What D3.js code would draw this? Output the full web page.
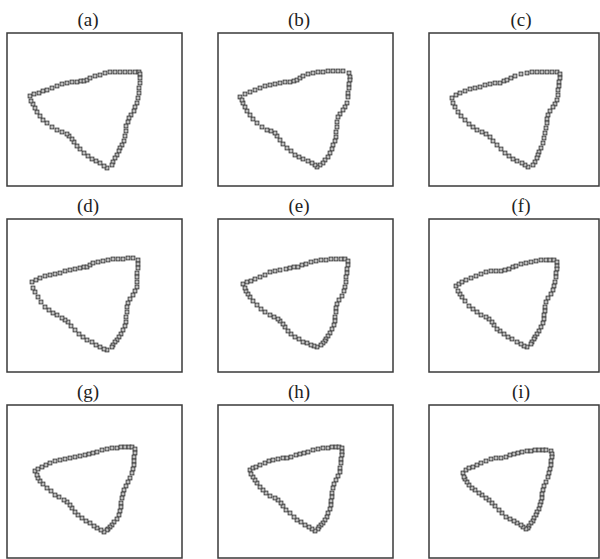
<!DOCTYPE html>
<html>
<head>
<meta charset="utf-8">
<script src="https://cdn.jsdelivr.net/npm/d3@7"></script>
<style>
  body { margin: 0; background: #fff; }
  svg { display: block; }
</style>
</head>
<body>
<div id="chart"></div>
<script>
'use strict';

// panel labels
var labels = ['(a)', '(b)', '(c)', '(d)', '(e)', '(f)', '(g)', '(h)', '(i)'];

// contour points (panel units, origin top-left of the box)
var pointsA = [[23,63],[27,61],[32,60],[36,58],[40,57],[45,55],[50,53],[55,51],[60,50],[65,49],[70,49],[74,48],[77,48],[80,47],[83,45],[88,43],[93,42],[98,40],[103,39],[108,39],[113,39],[118,39],[123,39],[128,39],[132,39],[133,41],
  [133,45],[133,50],[132,55],[132,60],[131,65],[130,70],[128,74],[127,78],[124,82],[122,85],[121,89],[119,93],[119,98],[118,103],[117,108],[115,112],[113,115],[112,118],[110,122],[108,125],[106,129],[105,132],[100,135],
  [97,133],[93,130],[89,128],[85,126],[81,123],[77,120],[73,116],[70,113],[67,109],[65,106],[62,103],[60,101],[55,99],[50,97],[45,94],[40,90],[36,87],[33,83],[30,79],[28,75],[26,71],[24,68]];
var pointsB = [[22,64],[27,61],[32,59],[37,57],[42,55],[47,53],[52,52],[57,51],[62,50],[67,49],[72,49],[76,48],[79,47],[82,45],[85,43],[90,41],[95,40],[100,39],[105,39],[110,38],[115,38],[120,38],[125,38],[131,40],
  [132,44],[132,47],[131,51],[131,55],[130,60],[130,64],[129,70],[127,74],[125,77],[122,81],[120,84],[119,89],[119,94],[118,99],[118,104],[117,108],[115,112],[114,116],[112,120],[110,124],[107,127],[105,130],[102,132],[99,134],
  [97,132],[94,130],[90,128],[85,126],[81,124],[77,122],[73,118],[69,115],[65,111],[62,107],[59,103],[57,100],[53,98],[49,97],[44,94],[39,90],[35,86],[32,82],[29,78],[27,74],[25,70],[24,67]];
var pointsC = [[23,65],[27,62],[31,60],[36,58],[41,56],[46,55],[51,54],[56,52],[61,51],[66,50],[71,50],[75,48],[78,47],[82,45],[86,43],[92,41],[98,40],[103,39],[108,39],[113,39],[118,39],[123,39],[128,39],[131,41],
  [131,45],[130,49],[130,53],[129,57],[129,62],[128,67],[126,71],[124,74],[121,78],[119,82],[118,86],[118,90],[117,95],[116,100],[115,105],[114,110],[112,115],[110,119],[109,122],[108,125],[106,129],[104,132],[99,134],
  [96,132],[93,130],[88,128],[84,126],[80,123],[76,120],[72,116],[68,112],[64,108],[61,104],[57,101],[53,99],[48,97],[44,94],[40,91],[36,87],[32,83],[29,79],[26,74],[24,70]];
var pointsD = [[25,63],[29,61],[33,59],[38,57],[43,56],[48,55],[53,54],[58,52],[63,51],[68,50],[73,49],[77,48],[80,48],[83,46],[86,44],[91,43],[96,42],[101,41],[106,40],[111,40],[116,40],[121,39],[126,39],[131,41],
  [131,45],[131,49],[130,54],[130,58],[130,63],[130,68],[128,72],[126,76],[123,80],[121,84],[120,88],[120,93],[119,98],[119,103],[118,107],[116,111],[114,115],[112,118],[110,121],[108,123],[106,126],[105,128],[100,131],
  [97,130],[93,128],[89,126],[85,123],[80,121],[76,118],[72,115],[68,111],[64,107],[61,103],[58,101],[55,99],[50,96],[46,94],[42,91],[38,88],[34,83],[31,78],[28,73],[26,69]];
var pointsE = [[25,65],[29,63],[33,62],[37,60],[42,58],[47,56],[52,53],[57,52],[62,51],[68,50],[72,49],[76,48],[80,48],[84,46],[88,45],[93,43],[98,42],[103,41],[108,41],[113,40],[118,40],[123,40],[127,40],[130,42],
  [130,46],[129,50],[129,54],[128,58],[128,63],[127,68],[126,72],[124,77],[121,81],[119,85],[118,89],[118,93],[117,98],[117,102],[116,106],[114,110],[112,114],[110,117],[108,120],[107,122],[105,124],[103,126],[99,128],
  [96,127],[93,126],[89,124],[85,123],[81,120],[77,118],[73,115],[70,112],[67,108],[65,105],[62,102],[60,100],[56,98],[52,96],[47,93],[43,90],[39,86],[35,82],[32,78],[30,75],[28,72],[27,69]];
var pointsF = [[27,67],[30,65],[33,63],[37,61],[42,59],[47,57],[52,55],[57,53],[62,52],[67,52],[72,52],[76,51],[80,50],[84,48],[87,47],[92,45],[97,44],[102,43],[107,42],[112,41],[117,41],[121,41],[125,41],[128,43],
  [128,47],[128,50],[127,54],[127,58],[126,63],[125,67],[124,71],[122,75],[119,79],[117,83],[116,88],[116,92],[115,96],[115,100],[114,104],[112,108],[110,112],[108,115],[106,118],[105,120],[103,123],[102,125],[98,128],
  [95,127],[92,125],[88,123],[83,120],[79,118],[75,115],[71,112],[68,110],[65,106],[63,103],[60,100],[57,98],[52,96],[48,93],[44,90],[40,87],[36,82],[33,78],[31,75],[29,72]];
var pointsG = [[28,66],[31,64],[35,62],[39,60],[43,58],[48,56],[53,55],[58,54],[63,53],[68,52],[73,51],[78,50],[82,49],[86,48],[90,47],[95,45],[100,44],[105,43],[110,43],[114,42],[118,42],[122,42],[125,42],[128,44],
  [128,48],[127,52],[127,56],[127,60],[126,64],[125,68],[123,73],[121,77],[119,81],[117,85],[116,89],[115,93],[114,98],[114,102],[113,106],[112,110],[110,114],[107,117],[105,120],[103,122],[101,124],[100,125],[97,127],
  [94,125],[90,123],[87,121],[83,118],[79,116],[75,113],[71,110],[68,107],[65,103],[63,100],[60,97],[57,95],[52,92],[48,90],[44,86],[40,83],[36,79],[33,76],[31,73],[30,70]];
var pointsH = [[32,65],[35,63],[38,62],[42,60],[47,58],[51,56],[55,55],[60,54],[65,53],[69,53],[73,52],[78,50],[82,49],[86,48],[90,47],[95,45],[100,44],[105,43],[110,43],[114,42],[118,42],[121,42],[124,43],
  [124,47],[124,50],[123,54],[123,58],[122,63],[122,67],[120,71],[118,75],[116,79],[115,83],[114,88],[114,92],[113,96],[113,100],[112,104],[110,108],[109,112],[107,115],[105,118],[103,120],[101,122],[100,124],[97,126],
  [94,124],[91,122],[87,120],[83,117],[79,115],[76,112],[72,108],[68,105],[65,101],[63,98],[60,95],[57,93],[52,91],[48,88],[45,85],[42,82],[39,78],[37,75],[35,72],[33,69]];
var pointsI = [[34,68],[37,65],[40,63],[44,62],[48,60],[52,58],[57,56],[62,54],[67,53],[72,53],[77,52],[81,50],[85,49],[89,48],[93,47],[98,46],[102,46],[106,45],[110,45],[114,45],[117,45],[122,46],
  [123,49],[123,52],[122,56],[122,60],[121,64],[120,68],[119,72],[117,77],[115,81],[114,85],[113,89],[113,93],[112,97],[111,100],[110,104],[108,107],[107,110],[105,113],[104,116],[102,118],[100,121],[99,123],[97,124],
  [94,122],[92,120],[88,118],[85,116],[81,114],[77,112],[73,108],[70,105],[66,101],[63,98],[60,95],[57,93],[53,90],[50,88],[46,85],[43,83],[40,80],[38,77],[36,74],[35,72]];

var pointSets = [pointsA, pointsB, pointsC, pointsD, pointsE, pointsF, pointsG, pointsH, pointsI];

// layout
var width = 600, height = 559;
var colX = [7, 218, 429], colW = [175, 175, 170];
var rowY = [33, 219, 405], panelH = 153;
var titleX = [88, 299, 521];

var svg = d3.select('#chart')
    .append('svg')
    .attr('width', width)
    .attr('height', height);

// shared scales, panel units -> pixels
var x = d3.scaleLinear().domain([0, 175]).range([0, 175]);
var y = d3.scaleLinear().domain([0, 153]).range([0, panelH]);

pointSets.forEach(function(pts, i) {
    var col = i % 3, row = Math.floor(i / 3);

    svg.append('text')
        .attr('x', titleX[col])
        .attr('y', rowY[row] - 7)
        .attr('text-anchor', 'middle')
        .style('font-family', '"Liberation Serif", "DejaVu Serif", serif')
        .style('font-size', '19px')
        .style('fill', '#222')
        .text(labels[i]);

    var g = svg.append('g')
        .attr('transform', 'translate(' + colX[col] + ',' + rowY[row] + ')');

    g.append('rect')
        .attr('width', colW[col])
        .attr('height', panelH)
        .attr('fill', 'white')
        .attr('stroke', '#3a3a3a')
        .attr('stroke-width', 1.5);

    g.selectAll('rect.pt')
        .data(pts)
        .enter()
        .append('rect')
        .attr('class', 'pt')
        .attr('x', function(d) { return x(d[0]) - 1.9; })
        .attr('y', function(d) { return y(d[1]) - 1.9; })
        .attr('width', 3.8)
        .attr('height', 3.8)
        .attr('fill', '#bdbdbd')
        .attr('stroke', '#3c3c3c')
        .attr('stroke-width', 0.9);
});
</script>
</body>
</html>
